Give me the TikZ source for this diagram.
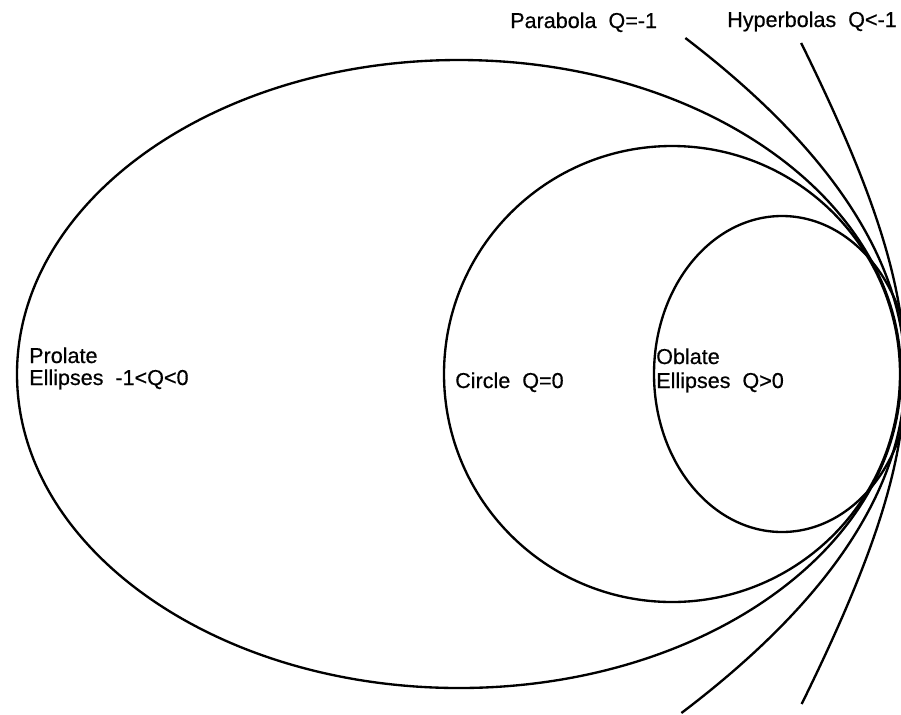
\documentclass[tikz,border=0pt]{standalone}
\usepackage{fontspec}
\setmainfont{Liberation Sans}[FakeBold=0.5]

\begin{document}
\begin{tikzpicture}[x=0.03cm, y=-0.03cm]
    \tikzset{
        conic/.style={line width=2pt},
        lbl/.style={font=\fontsize{18.4}{22}\selectfont, inner sep=0pt, anchor=base west}
    }
    \useasboundingbox (0,0) rectangle (901,714);

    % Conic sections sharing one vertex
    \begin{scope}
        \clip (0,0) rectangle (901,714);
        \draw[conic] (459,374) ellipse [x radius=442, y radius=314];
        \draw[conic] (672,374) circle [radius=228];
        \draw[conic] (782,374) ellipse [x radius=128, y radius=158];
        \draw[conic] plot[domain=-336:339, samples=90, smooth] ({905-19.455*(\x/100)^2}, {374+\x});
        \draw[conic] plot[domain=-331:330, samples=90, smooth] ({905-138*(sqrt(1+(\x/230)^2)-1)}, {374+\x});
    \end{scope}

    % Labels
    \node[lbl] (parabola) at (510,28) {Parabola~~Q=-1};
    \node[lbl] (hyperbola) at (727,27) {Hyperbolas~~Q<-1};
    \node[lbl] (prolate) at (29,363) {Prolate};
    \node[lbl] (prolateq) at (29,385) {Ellipses~~-1<Q<0};
    \node[lbl] (circle) at (455,388) {Circle~~Q=0};
    \node[lbl] (oblate) at (656,364) {Oblate};
    \node[lbl] (oblateq) at (656,388) {Ellipses~~Q>0};
\end{tikzpicture}
\end{document}
